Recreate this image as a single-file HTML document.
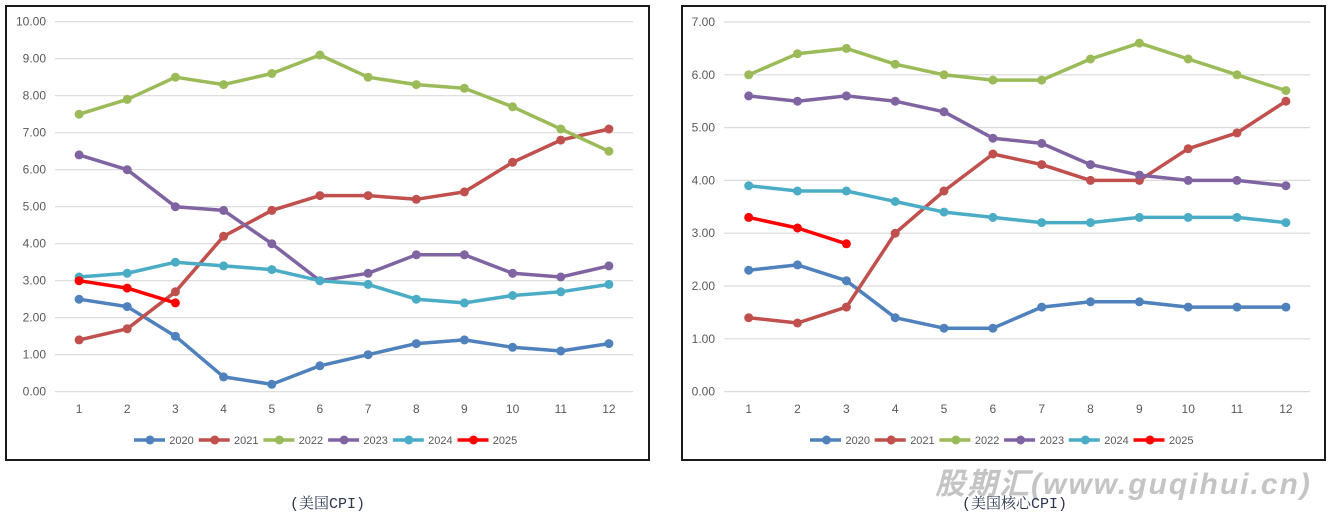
<!DOCTYPE html>
<html><head><meta charset="utf-8">
<style>
html,body{margin:0;padding:0;background:#fff;}
svg{display:block;}
.ax{font-family:"Liberation Sans",sans-serif;font-size:12px;fill:#595959;}
.lg{font-family:"Liberation Sans",sans-serif;font-size:11px;fill:#595959;}
.cap{font-family:"Liberation Mono","Noto Serif CJK SC",serif;font-size:15px;fill:#2a3550;}
.wm{font-family:"Liberation Sans","Noto Sans CJK SC",sans-serif;font-size:30px;font-weight:bold;font-style:italic;fill:#c4c4c4;letter-spacing:2px;}
</style></head><body>
<svg width="1333" height="515" viewBox="0 0 1333 515" xmlns="http://www.w3.org/2000/svg">
<defs>
<marker id="m1" markerWidth="10" markerHeight="10" refX="5" refY="5" markerUnits="userSpaceOnUse"><circle cx="5" cy="5" r="4.5" fill="#4F81BD"/></marker>
<marker id="m2" markerWidth="10" markerHeight="10" refX="5" refY="5" markerUnits="userSpaceOnUse"><circle cx="5" cy="5" r="4.5" fill="#C0504D"/></marker>
<marker id="m3" markerWidth="10" markerHeight="10" refX="5" refY="5" markerUnits="userSpaceOnUse"><circle cx="5" cy="5" r="4.5" fill="#9BBB59"/></marker>
<marker id="m4" markerWidth="10" markerHeight="10" refX="5" refY="5" markerUnits="userSpaceOnUse"><circle cx="5" cy="5" r="4.5" fill="#8064A2"/></marker>
<marker id="m5" markerWidth="10" markerHeight="10" refX="5" refY="5" markerUnits="userSpaceOnUse"><circle cx="5" cy="5" r="4.5" fill="#4BACC6"/></marker>
<marker id="m6" markerWidth="10" markerHeight="10" refX="5" refY="5" markerUnits="userSpaceOnUse"><circle cx="5" cy="5" r="4.5" fill="#FF0000"/></marker>
</defs>

<!-- watermark -->
<text class="wm" x="935" y="494">股期汇(www.guqihui.cn)</text>

<!-- LEFT CHART -->
<rect x="6" y="6" width="643" height="454" fill="none" stroke="#1a1a1a" stroke-width="2"/>
<g stroke="#d9d9d9" stroke-width="1.2">
<line x1="55" x2="633" y1="391.7" y2="391.7"/>
<line x1="55" x2="633" y1="354.7" y2="354.7"/>
<line x1="55" x2="633" y1="317.7" y2="317.7"/>
<line x1="55" x2="633" y1="280.7" y2="280.7"/>
<line x1="55" x2="633" y1="243.7" y2="243.7"/>
<line x1="55" x2="633" y1="206.7" y2="206.7"/>
<line x1="55" x2="633" y1="169.7" y2="169.7"/>
<line x1="55" x2="633" y1="132.7" y2="132.7"/>
<line x1="55" x2="633" y1="95.7" y2="95.7"/>
<line x1="55" x2="633" y1="58.7" y2="58.7"/>
<line x1="55" x2="633" y1="21.7" y2="21.7"/>
</g>
<g class="ax" text-anchor="end">
<text x="46" y="395.7">0.00</text>
<text x="46" y="358.7">1.00</text>
<text x="46" y="321.7">2.00</text>
<text x="46" y="284.7">3.00</text>
<text x="46" y="247.7">4.00</text>
<text x="46" y="210.7">5.00</text>
<text x="46" y="173.7">6.00</text>
<text x="46" y="136.7">7.00</text>
<text x="46" y="99.7">8.00</text>
<text x="46" y="62.7">9.00</text>
<text x="46" y="25.7">10.00</text>
</g>
<g class="ax" text-anchor="middle">
<text x="79.1" y="413">1</text>
<text x="127.2" y="413">2</text>
<text x="175.4" y="413">3</text>
<text x="223.6" y="413">4</text>
<text x="271.8" y="413">5</text>
<text x="319.9" y="413">6</text>
<text x="368.1" y="413">7</text>
<text x="416.3" y="413">8</text>
<text x="464.4" y="413">9</text>
<text x="512.6" y="413">10</text>
<text x="560.8" y="413">11</text>
<text x="608.9" y="413">12</text>
</g>
<g fill="none" stroke-width="3.5" stroke-linejoin="round" stroke-linecap="round">
<polyline stroke="#4F81BD" marker-start="url(#m1)" marker-mid="url(#m1)" marker-end="url(#m1)" points="79.1,299.2 127.2,306.6 175.4,336.2 223.6,376.9 271.8,384.3 319.9,365.8 368.1,354.7 416.3,343.6 464.4,339.9 512.6,347.3 560.8,351.0 608.9,343.6"/>
<polyline stroke="#C0504D" marker-start="url(#m2)" marker-mid="url(#m2)" marker-end="url(#m2)" points="79.1,339.9 127.2,328.8 175.4,291.8 223.6,236.3 271.8,210.4 319.9,195.6 368.1,195.6 416.3,199.3 464.4,191.9 512.6,162.3 560.8,140.1 608.9,129.0"/>
<polyline stroke="#9BBB59" marker-start="url(#m3)" marker-mid="url(#m3)" marker-end="url(#m3)" points="79.1,114.2 127.2,99.4 175.4,77.2 223.6,84.6 271.8,73.5 319.9,55.0 368.1,77.2 416.3,84.6 464.4,88.3 512.6,106.8 560.8,129.0 608.9,151.2"/>
<polyline stroke="#8064A2" marker-start="url(#m4)" marker-mid="url(#m4)" marker-end="url(#m4)" points="79.1,154.9 127.2,169.7 175.4,206.7 223.6,210.4 271.8,243.7 319.9,280.7 368.1,273.3 416.3,254.8 464.4,254.8 512.6,273.3 560.8,277.0 608.9,265.9"/>
<polyline stroke="#4BACC6" marker-start="url(#m5)" marker-mid="url(#m5)" marker-end="url(#m5)" points="79.1,277.0 127.2,273.3 175.4,262.2 223.6,265.9 271.8,269.6 319.9,280.7 368.1,284.4 416.3,299.2 464.4,302.9 512.6,295.5 560.8,291.8 608.9,284.4"/>
<polyline stroke="#FF0000" marker-start="url(#m6)" marker-mid="url(#m6)" marker-end="url(#m6)" points="79.1,280.7 127.2,288.1 175.4,302.9"/>
</g>
<!-- left legend -->
<g stroke-width="3.5">
<line x1="134" x2="165" y1="440" y2="440" stroke="#4F81BD"/><circle cx="150" cy="440" r="4.5" fill="#4F81BD"/>
<line x1="198.7" x2="229.7" y1="440" y2="440" stroke="#C0504D"/><circle cx="214.7" cy="440" r="4.5" fill="#C0504D"/>
<line x1="263.4" x2="294.4" y1="440" y2="440" stroke="#9BBB59"/><circle cx="279.4" cy="440" r="4.5" fill="#9BBB59"/>
<line x1="328.1" x2="359.1" y1="440" y2="440" stroke="#8064A2"/><circle cx="344.1" cy="440" r="4.5" fill="#8064A2"/>
<line x1="392.8" x2="423.8" y1="440" y2="440" stroke="#4BACC6"/><circle cx="408.8" cy="440" r="4.5" fill="#4BACC6"/>
<line x1="457.5" x2="488.5" y1="440" y2="440" stroke="#FF0000"/><circle cx="473.5" cy="440" r="4.5" fill="#FF0000"/>
</g>
<g class="lg">
<text x="169.3" y="444">2020</text>
<text x="234" y="444">2021</text>
<text x="298.7" y="444">2022</text>
<text x="363.4" y="444">2023</text>
<text x="428.1" y="444">2024</text>
<text x="492.8" y="444">2025</text>
</g>

<!-- RIGHT CHART -->
<rect x="682" y="6" width="643" height="454" fill="none" stroke="#1a1a1a" stroke-width="2"/>
<g stroke="#d9d9d9" stroke-width="1.2">
<line x1="724.3" x2="1310" y1="391.6" y2="391.6"/>
<line x1="724.3" x2="1310" y1="338.8" y2="338.8"/>
<line x1="724.3" x2="1310" y1="286.0" y2="286.0"/>
<line x1="724.3" x2="1310" y1="233.2" y2="233.2"/>
<line x1="724.3" x2="1310" y1="180.4" y2="180.4"/>
<line x1="724.3" x2="1310" y1="127.6" y2="127.6"/>
<line x1="724.3" x2="1310" y1="74.8" y2="74.8"/>
<line x1="724.3" x2="1310" y1="22.0" y2="22.0"/>
</g>
<g class="ax" text-anchor="end">
<text x="715" y="395.6">0.00</text>
<text x="715" y="342.8">1.00</text>
<text x="715" y="290.0">2.00</text>
<text x="715" y="237.2">3.00</text>
<text x="715" y="184.4">4.00</text>
<text x="715" y="131.6">5.00</text>
<text x="715" y="78.8">6.00</text>
<text x="715" y="26.0">7.00</text>
</g>
<g class="ax" text-anchor="middle">
<text x="748.7" y="413">1</text>
<text x="797.5" y="413">2</text>
<text x="846.4" y="413">3</text>
<text x="895.2" y="413">4</text>
<text x="944.0" y="413">5</text>
<text x="992.9" y="413">6</text>
<text x="1041.7" y="413">7</text>
<text x="1090.5" y="413">8</text>
<text x="1139.4" y="413">9</text>
<text x="1188.2" y="413">10</text>
<text x="1237.0" y="413">11</text>
<text x="1285.9" y="413">12</text>
</g>
<g fill="none" stroke-width="3.5" stroke-linejoin="round" stroke-linecap="round">
<polyline stroke="#4F81BD" marker-start="url(#m1)" marker-mid="url(#m1)" marker-end="url(#m1)" points="748.7,270.2 797.5,264.9 846.4,280.7 895.2,317.7 944.0,328.2 992.9,328.2 1041.7,307.1 1090.5,301.8 1139.4,301.8 1188.2,307.1 1237.0,307.1 1285.9,307.1"/>
<polyline stroke="#C0504D" marker-start="url(#m2)" marker-mid="url(#m2)" marker-end="url(#m2)" points="748.7,317.7 797.5,323.0 846.4,307.1 895.2,233.2 944.0,191.0 992.9,154.0 1041.7,164.6 1090.5,180.4 1139.4,180.4 1188.2,148.7 1237.0,132.9 1285.9,101.2"/>
<polyline stroke="#9BBB59" marker-start="url(#m3)" marker-mid="url(#m3)" marker-end="url(#m3)" points="748.7,74.8 797.5,53.7 846.4,48.4 895.2,64.2 944.0,74.8 992.9,80.1 1041.7,80.1 1090.5,59.0 1139.4,43.1 1188.2,59.0 1237.0,74.8 1285.9,90.6"/>
<polyline stroke="#8064A2" marker-start="url(#m4)" marker-mid="url(#m4)" marker-end="url(#m4)" points="748.7,95.9 797.5,101.2 846.4,95.9 895.2,101.2 944.0,111.8 992.9,138.2 1041.7,143.4 1090.5,164.6 1139.4,175.1 1188.2,180.4 1237.0,180.4 1285.9,185.7"/>
<polyline stroke="#4BACC6" marker-start="url(#m5)" marker-mid="url(#m5)" marker-end="url(#m5)" points="748.7,185.7 797.5,191.0 846.4,191.0 895.2,201.5 944.0,212.1 992.9,217.4 1041.7,222.6 1090.5,222.6 1139.4,217.4 1188.2,217.4 1237.0,217.4 1285.9,222.6"/>
<polyline stroke="#FF0000" marker-start="url(#m6)" marker-mid="url(#m6)" marker-end="url(#m6)" points="748.7,217.4 797.5,228.0 846.4,243.8"/>
</g>
<!-- right legend -->
<g stroke-width="3.5">
<line x1="810" x2="841" y1="440" y2="440" stroke="#4F81BD"/><circle cx="826.5" cy="440" r="4.5" fill="#4F81BD"/>
<line x1="874.7" x2="905.7" y1="440" y2="440" stroke="#C0504D"/><circle cx="891.2" cy="440" r="4.5" fill="#C0504D"/>
<line x1="939.4" x2="970.4" y1="440" y2="440" stroke="#9BBB59"/><circle cx="955.9" cy="440" r="4.5" fill="#9BBB59"/>
<line x1="1004.1" x2="1035.1" y1="440" y2="440" stroke="#8064A2"/><circle cx="1020.6" cy="440" r="4.5" fill="#8064A2"/>
<line x1="1068.8" x2="1099.8" y1="440" y2="440" stroke="#4BACC6"/><circle cx="1085.3" cy="440" r="4.5" fill="#4BACC6"/>
<line x1="1133.5" x2="1164.5" y1="440" y2="440" stroke="#FF0000"/><circle cx="1150" cy="440" r="4.5" fill="#FF0000"/>
</g>
<g class="lg">
<text x="845.5" y="444">2020</text>
<text x="910.2" y="444">2021</text>
<text x="974.9" y="444">2022</text>
<text x="1039.6" y="444">2023</text>
<text x="1104.3" y="444">2024</text>
<text x="1169" y="444">2025</text>
</g>

<!-- captions -->
<text class="cap" x="290" y="508">(美国CPI)</text>
<text class="cap" x="962" y="508">(美国核心CPI)</text>
</svg>
</body></html>
